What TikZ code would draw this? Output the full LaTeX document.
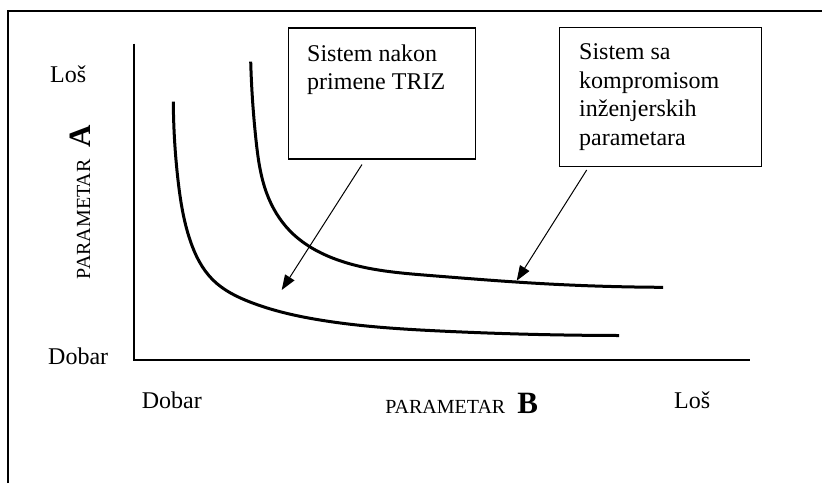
\documentclass[tikz,border=0pt]{standalone}
\usepackage{fontspec}
\setmainfont{Liberation Serif}
\usetikzlibrary{arrows.meta,calc,hobby}
\newcommand{\axisletter}[1]{{\fontsize{31}{34}\selectfont\bfseries #1}}
\begin{document}
\begin{tikzpicture}[x=1pt,y=-1pt,
  frame/.style={line width=2pt},
  axis/.style={line width=1.4pt},
  curve/.style={line width=3pt, line cap=butt, use Hobby shortcut},
  callout/.style={draw, line width=1.4pt, anchor=north west, inner sep=0pt},
  calltext/.style={anchor=north west, inner sep=0pt, align=left,
                   font=\fontsize{24}{28.5}\selectfont},
  lbl/.style={inner sep=0pt, anchor=base west, font=\fontsize{24}{28}\selectfont},
  axtitle/.style={inner sep=0pt, anchor=base, font=\fontsize{20}{24}\selectfont},
  pointer/.style={line width=1pt, -{Triangle[length=15pt,width=11pt]}}
]
\useasboundingbox (0,0) rectangle (822,483);

% page frame (open to the right and bottom)
\draw[frame] (8,483) |- (822,10.5);

% axes
\coordinate (origin) at (134,360);
\coordinate (ytop) at (134,43.5);
\coordinate (xend) at (750,360);
\draw[axis] (ytop) -- (origin) -- (xend);

% trade-off curve of the system after TRIZ
\draw[curve] (173.3,101.7) .. (178,180) .. (190,240) .. (213,280)
  .. (250,302) .. (320,320) .. (440,331) .. (619,335.5);
% trade-off curve of the compromise system
\draw[curve] (250.7,61.7) .. (256,140) .. (266.7,193.3) .. (290,231)
  .. (333.3,258.3) .. (430,275.5) .. (540,283.5) .. (663,287.3);

% call-out boxes
\node[callout, minimum width=187pt, minimum height=131pt] (triz) at (288,27.4) {};
\node[calltext] (triztext) at ($(triz.north west)+(19,17)$)
  {Sistem nakon\\primene TRIZ};
\node[callout, minimum width=202pt, minimum height=138.7pt] (komp) at (559,26.8) {};
\node[calltext] (komptext) at ($(komp.north west)+(20,17)$)
  {Sistem sa\\kompromisom\\inženjerskih\\parametara};

% pointers from the boxes to the curves
\coordinate (trizfrom) at (362,164.5);
\coordinate (trizto) at (281.7,290);
\coordinate (kompfrom) at (586.7,170);
\coordinate (kompto) at (516.7,280.7);
\draw[pointer] (trizfrom) -- (trizto);
\draw[pointer] (kompfrom) -- (kompto);

% axis labels
\node[lbl] (ylos) at (50,82) {Loš};
\node[lbl] (ydobar) at (48,364) {Dobar};
\node[lbl] (xdobar) at (141.6,408) {Dobar};
\node[lbl] (xlos) at (674,408) {Loš};
\node[axtitle, rotate=90] (ytitle) at (90,202)
  {PARAMETAR\hspace{12pt}\axisletter{A}};
\node[axtitle] (xtitle) at (461.7,413)
  {PARAMETAR\hspace{12pt}\axisletter{B}};
\end{tikzpicture}
\end{document}
